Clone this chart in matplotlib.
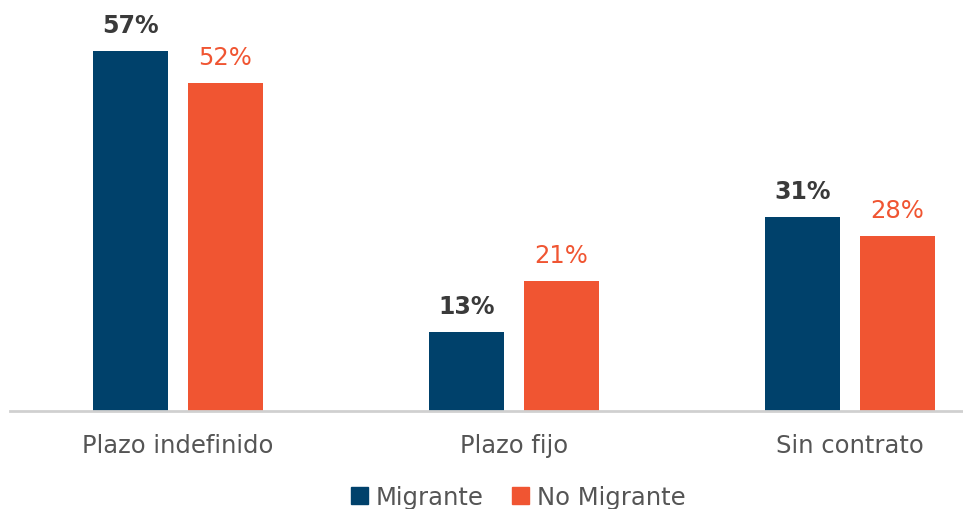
import numpy as np
import matplotlib
matplotlib.use("Agg")
import matplotlib.pyplot as plt
from matplotlib.patches import Patch

# Data
categories = ["Plazo indefinido", "Plazo fijo", "Sin contrato"]
migrante = [57, 13, 31]
no_migrante = [52, 21, 28]
series_names = ["Migrante", "No Migrante"]

navy = "#00416B"
orange = "#F05532"
gray_text = "#555555"
dark_label = "#3A3A3A"

fig = plt.figure(figsize=(9.63, 5.10), dpi=100)
ax = fig.add_axes([10 / 963, 98 / 510, 953 / 963, 412 / 510])

x = np.arange(len(categories))
w = 0.223
off = 0.141

b1 = ax.bar(x - off, migrante, width=w, color=navy)
b2 = ax.bar(x + off, no_migrante, width=w, color=orange)

for rect, v in zip(b1, migrante):
    ax.text(rect.get_x() + rect.get_width() / 2, v + 2.2, f"{v}%",
            ha="center", va="bottom", fontsize=17, fontweight="bold", color=dark_label)
for rect, v in zip(b2, no_migrante):
    ax.text(rect.get_x() + rect.get_width() / 2, v + 2.2, f"{v}%",
            ha="center", va="bottom", fontsize=17.5, color=orange)

ax.set_xlim(-0.5, 2.336)
ax.set_ylim(0.63, 65.14)

for s in ["top", "right", "left"]:
    ax.spines[s].set_visible(False)
ax.spines["bottom"].set_color("#D0D0D0")
ax.spines["bottom"].set_linewidth(2)

ax.set_yticks([])
ax.set_xticks(x)
ax.set_xticklabels(categories, fontsize=17.5, color=gray_text)
ax.tick_params(axis="x", length=0, pad=16)

handles = [Patch(color=navy, label=series_names[0]),
           Patch(color=orange, label=series_names[1])]
fig.legend(handles=handles, loc="center", bbox_to_anchor=(0.538, 0.024),
           ncol=2, frameon=False, fontsize=17.5, handlelength=0.7, handleheight=0.7,
           handletextpad=0.3, columnspacing=1.2, labelcolor=gray_text)

fig.savefig("out.png", dpi=100)
